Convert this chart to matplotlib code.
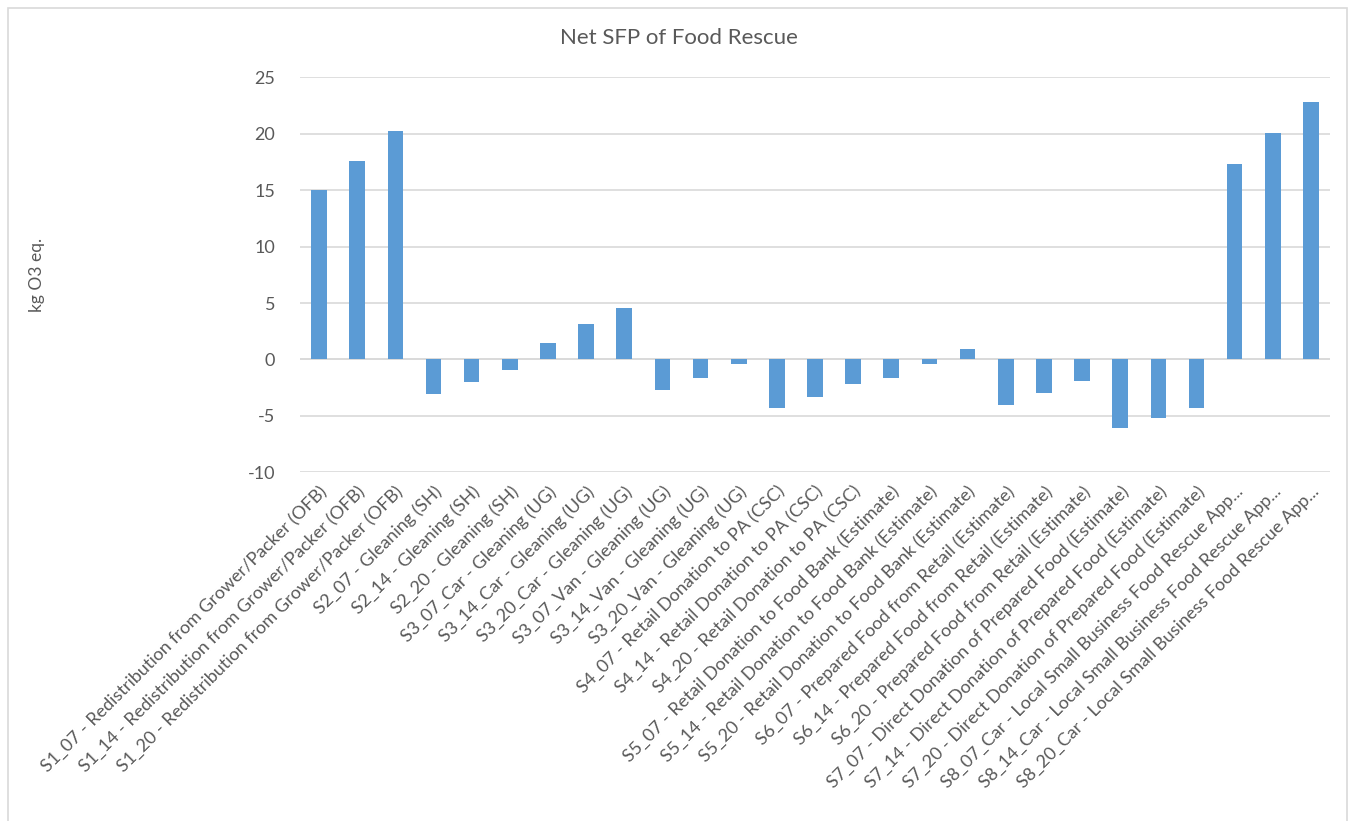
import matplotlib
matplotlib.use("Agg")
import matplotlib.pyplot as plt
from matplotlib.patches import Rectangle

categories = [
    "S1_07 - Redistribution from Grower/Packer (OFB)",
    "S1_14 - Redistribution from Grower/Packer (OFB)",
    "S1_20 - Redistribution from Grower/Packer (OFB)",
    "S2_07 - Gleaning (SH)",
    "S2_14 - Gleaning (SH)",
    "S2_20 - Gleaning (SH)",
    "S3_07_Car - Gleaning (UG)",
    "S3_14_Car - Gleaning (UG)",
    "S3_20_Car - Gleaning (UG)",
    "S3_07_Van - Gleaning (UG)",
    "S3_14_Van - Gleaning (UG)",
    "S3_20_Van - Gleaning (UG)",
    "S4_07 - Retail Donation to PA (CSC)",
    "S4_14 - Retail Donation to PA (CSC)",
    "S4_20 - Retail Donation to PA (CSC)",
    "S5_07 - Retail Donation to Food Bank (Estimate)",
    "S5_14 - Retail Donation to Food Bank (Estimate)",
    "S5_20 - Retail Donation to Food Bank (Estimate)",
    "S6_07 - Prepared Food from Retail (Estimate)",
    "S6_14 - Prepared Food from Retail (Estimate)",
    "S6_20 - Prepared Food from Retail (Estimate)",
    "S7_07 - Direct Donation of Prepared Food (Estimate)",
    "S7_14 - Direct Donation of Prepared Food (Estimate)",
    "S7_20 - Direct Donation of Prepared Food (Estimate)",
    "S8_07_Car - Local Small Business Food Rescue App...",
    "S8_14_Car - Local Small Business Food Rescue App...",
    "S8_20_Car - Local Small Business Food Rescue App...",
]

net_sfp = [
    15.0, 17.6, 20.2,
    -3.1, -2.0, -0.9,
    1.5, 3.1, 4.6,
    -2.7, -1.6, -0.4,
    -4.3, -3.3, -2.2,
    -1.6, -0.4, 0.9,
    -4.0, -3.0, -1.9,
    -6.1, -5.2, -4.3,
    17.3, 20.1, 22.8,
]

y_ticks = [-10, -5, 0, 5, 10, 15, 20, 25]

TEXT = "#595959"
GRID = "#d9d9d9"
BAR = "#5b9bd5"

plt.rcParams["font.family"] = ["Lato", "DejaVu Sans"]

W, H = 1353, 821
fig = plt.figure(figsize=(W / 100, H / 100), dpi=100)
fig.patch.set_facecolor("white")

# chart frame
fig.patches.append(Rectangle((8 / W, -0.05), (1347 - 8) / W, 1.05 - 8 / H,
                             transform=fig.transFigure, fill=False,
                             edgecolor=GRID, linewidth=1.2))

ax = fig.add_axes([300 / W, 1 - 472.3 / H, (1330 - 300) / W, (472.3 - 77.3) / H])
x = list(range(len(categories)))
ax.bar(x, net_sfp, width=0.41, color=BAR, zorder=3)

ax.set_xlim(-0.5, len(categories) - 0.5)
ax.set_ylim(-10, 25)
ax.set_yticks(y_ticks)
ax.set_yticklabels([str(v) for v in y_ticks])
ax.yaxis.grid(True, color=GRID, linewidth=1.2, zorder=0)
ax.axhline(0, color=GRID, linewidth=1.2, zorder=2)
for s in ax.spines.values():
    s.set_visible(False)
ax.tick_params(axis="both", length=0, colors=TEXT, labelsize=13)
ax.tick_params(axis="y", pad=18)
ax.set_xticks(x)
ax.set_xticklabels(categories, rotation=45, ha="right", rotation_mode="anchor",
                   fontsize=13, color=TEXT)
ax.tick_params(axis="x", pad=8)

ax.set_ylabel("kg O3 eq.", fontsize=12.5, color=TEXT, labelpad=0)
ax.yaxis.set_label_coords((45 - 300) / (1330 - 300), 0.5)

fig.text(679 / W, 1 - 38 / H, "Net SFP of Food Rescue", ha="center", va="center",
         fontsize=16, color=TEXT)

fig.savefig("out.png", dpi=100)
